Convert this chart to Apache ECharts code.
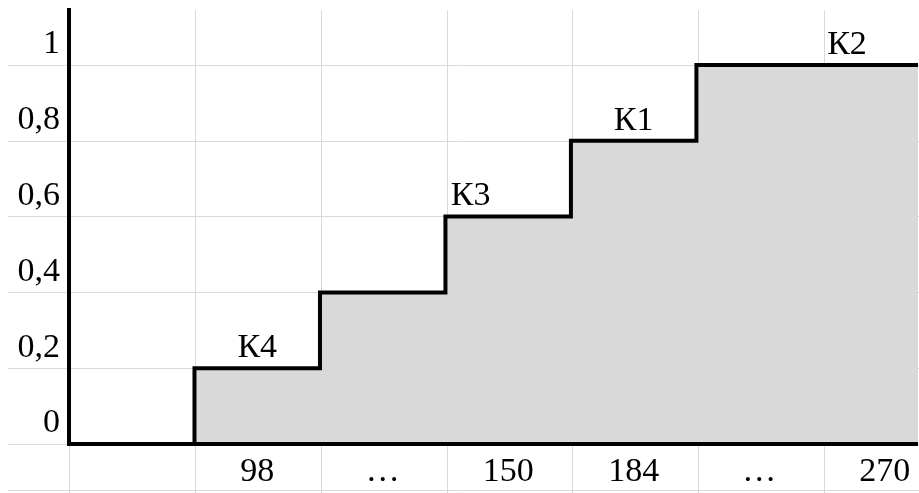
<!DOCTYPE html>
<html>
<head>
<meta charset="utf-8">
<script src="https://cdn.jsdelivr.net/npm/echarts@6/dist/echarts.min.js"></script>
<style>html,body{margin:0;padding:0;background:#fff;overflow:hidden;}#c{width:919px;height:493px;}</style>
</head>
<body>
<div id="c"></div>
<script>
// ---- data ----
var categories = ['', '98', '…', '150', '184', '…', '270'];
var stepX = [0, 1, 2, 3, 4, 5, 7];
var stepY = [0, 0.2, 0.4, 0.6, 0.8, 1, 1];
var yTickLabels = ['0', '0,2', '0,4', '0,6', '0,8', '1'];
var markNames = ['К4', 'К3', 'К1', 'К2'];
var markX = [1.5, 3.2, 4.5, 6.2];
var markY = [0.2, 0.6, 0.8, 1];

var FONT = 'Liberation Serif';
var GRID_COLOR = '#d9d9d9';
var FS = 34;
var X_MAX = 6.75;   // visible part of the column range (last column is cut by the frame)

var stepData = stepX.map(function (x, i) { return [x, stepY[i]]; });
var markData = markX.map(function (x, i) { return { value: [x, markY[i]], name: markNames[i] }; });

var chart = echarts.init(document.getElementById('c'));
chart.setOption({
  animation: false,
  backgroundColor: '#fff',
  grid: [
    { left: 69, right: 0, top: 10, bottom: 49 },   // main
    { left: 69, right: 0, top: 10, bottom: 0 },    // vertical cell lines
    { left: 8, right: 0, top: 65, bottom: 49 },    // horizontal cell lines
    { left: 8, right: 0, top: 10, bottom: 3 }      // bottom cell line
  ],
  xAxis: [
    { gridIndex: 0, type: 'value', min: 0, max: X_MAX, interval: 1, z: 5,
      axisLine: { show: true, lineStyle: { color: '#000', width: 4, cap: 'square' } },
      axisTick: { show: false }, axisLabel: { show: false }, splitLine: { show: false } },
    { gridIndex: 0, type: 'value', min: 0, max: X_MAX, interval: 0.5, position: 'bottom',
      axisLine: { show: false }, axisTick: { show: false }, splitLine: { show: false },
      axisLabel: { show: true, color: '#000', fontFamily: FONT, fontSize: FS,
        margin: 28, verticalAlign: 'middle', showMinLabel: true, showMaxLabel: true,
        formatter: function (v) {
          var k = Math.floor(v);
          if (Math.abs(v - k - 0.5) > 1e-6) return '';
          return categories[k] !== undefined ? categories[k] : '';
        } } },
    { gridIndex: 1, type: 'value', min: 0, max: X_MAX, interval: 1,
      axisLine: { show: false }, axisTick: { show: false }, axisLabel: { show: false },
      splitLine: { show: true, lineStyle: { color: GRID_COLOR, width: 1 } } },
    { gridIndex: 2, type: 'value', show: false, min: 0, max: 1 },
    { gridIndex: 3, type: 'value', min: 0, max: 1,
      axisLine: { show: true, lineStyle: { color: GRID_COLOR, width: 1 } },
      axisTick: { show: false }, axisLabel: { show: false }, splitLine: { show: false } }
  ],
  yAxis: [
    { gridIndex: 0, type: 'value', min: 0, max: 1.145, interval: 0.2, z: 5,
      axisLine: { show: true, lineStyle: { color: '#000', width: 4, cap: 'square' } },
      axisTick: { show: false }, splitLine: { show: false },
      axisLabel: { show: true, color: '#000', fontFamily: FONT, fontSize: FS, margin: 9,
        verticalAlign: 'bottom', lineHeight: 41,
        formatter: function (v) {
          var k = Math.round(v / 0.2);
          if (Math.abs(v - k * 0.2) > 1e-6) return '';
          return yTickLabels[k] !== undefined ? yTickLabels[k] : '';
        } } },
    { gridIndex: 1, type: 'value', show: false, min: 0, max: 1 },
    { gridIndex: 2, type: 'value', min: 0, max: 1, interval: 0.2,
      axisLine: { show: false }, axisTick: { show: false }, axisLabel: { show: false },
      splitLine: { show: true, lineStyle: { color: GRID_COLOR, width: 1 } } },
    { gridIndex: 3, type: 'value', show: false, min: 0, max: 1 }
  ],
  series: [
    { type: 'line', xAxisIndex: 0, yAxisIndex: 0, step: 'end', data: stepData,
      symbol: 'none', z: 3,
      lineStyle: { color: '#000', width: 4, join: 'miter', cap: 'square' },
      areaStyle: { color: '#d9d9d9', opacity: 1 } },
    { type: 'scatter', xAxisIndex: 0, yAxisIndex: 0, data: markData, symbolSize: 0, z: 6,
      itemStyle: { opacity: 1 },
      label: { show: true, position: 'inside', offset: [0, -20], color: '#000', opacity: 1,
        fontFamily: FONT, fontSize: FS, formatter: function (p) { return p.name; } } }
  ]
});
</script>
</body>
</html>
